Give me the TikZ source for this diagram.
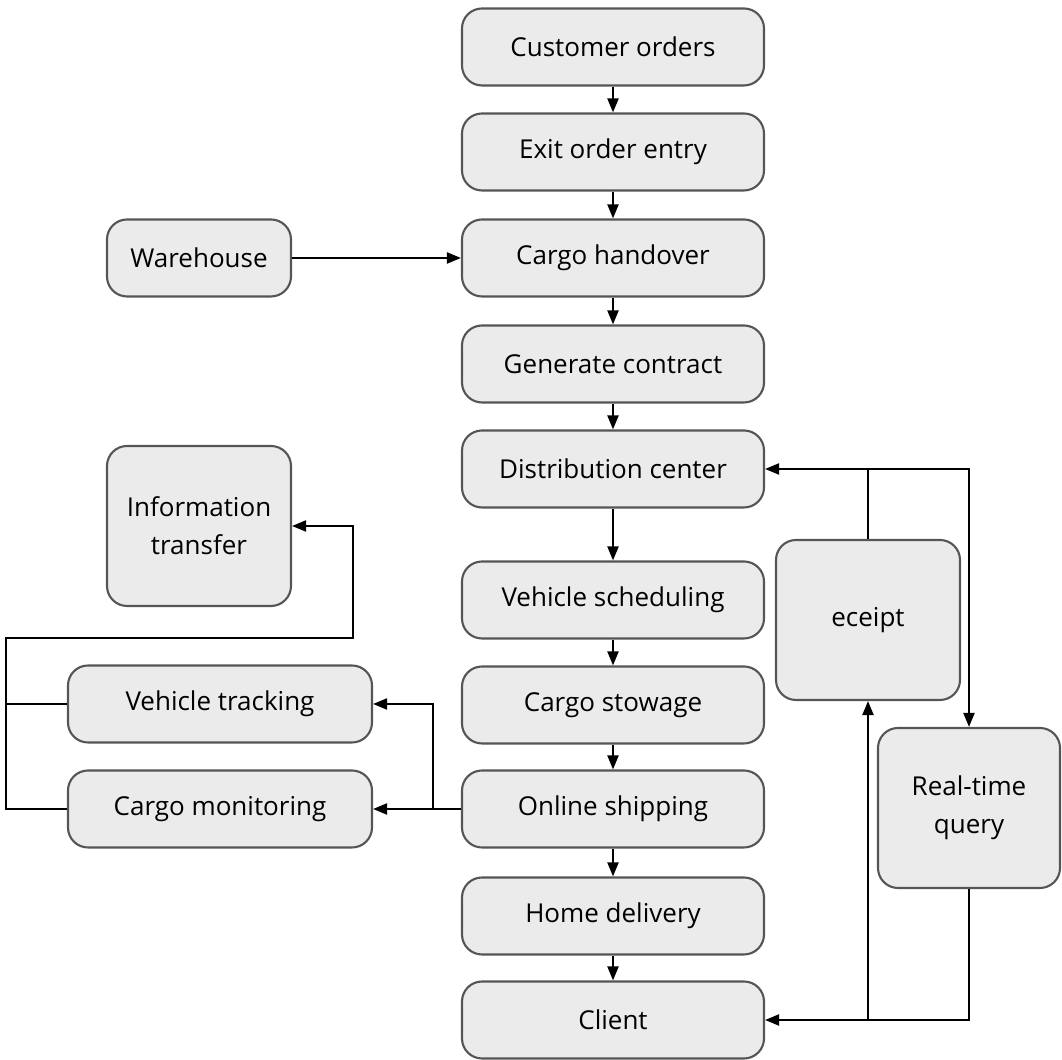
\documentclass[tikz,border=0pt]{standalone}
\usepackage{fontspec}
\setmainfont{Open Sans}
\usepackage{tikz}
\usetikzlibrary{arrows.meta,calc}
\definecolor{boxfill}{HTML}{EBEBEB}
\definecolor{boxline}{HTML}{555555}
\tikzset{
  stepbox/.style={draw=boxline,fill=boxfill,rounded corners=0.2cm,line width=0.6pt,
    minimum width=3.02cm,minimum height=0.77cm,align=center,inner sep=0pt,
    font=\fontsize{7.4}{10.8}\selectfont},
  sidebox/.style={stepbox,minimum width=1.84cm},
  tallbox/.style={sidebox,minimum height=1.6cm},
  flow/.style={-{Triangle[length=1.4mm,width=1.1mm]},line width=0.6pt},
  wire/.style={line width=0.6pt}
}

\begin{document}
\begin{tikzpicture}
      \useasboundingbox (0,0) rectangle (10.62,10.60);

      % main column
      \node[stepbox] (orders) at (6.13,10.13) {Customer orders};
      \node[stepbox] (entry) at (6.13,9.08) {Exit order entry};
      \node[stepbox] (handover) at (6.13,8.02) {Cargo handover};
      \node[stepbox] (contract) at (6.13,6.96) {Generate contract};
      \node[stepbox] (center) at (6.13,5.91) {Distribution center};
      \node[stepbox] (sched) at (6.13,4.60) {Vehicle scheduling};
      \node[stepbox] (stowage) at (6.13,3.55) {Cargo stowage};
      \node[stepbox] (shipping) at (6.13,2.51) {Online shipping};
      \node[stepbox] (delivery) at (6.13,1.44) {Home delivery};
      \node[stepbox] (client) at (6.13,0.40) {Client};

      % left side
      \node[sidebox] (warehouse) at (1.99,8.02) {Warehouse};
      \node[tallbox] (info) at (1.99,5.34) {Information\\transfer};
      \node[stepbox,minimum width=3.04cm] (tracking) at (2.20,3.56) {Vehicle tracking};
      \node[stepbox,minimum width=3.04cm] (monitor) at (2.20,2.51) {Cargo monitoring};

      % right side
      \node[tallbox] (receipt) at (8.68,4.40) {eceipt};
      \node[tallbox,minimum width=1.82cm] (query) at (9.69,2.52) {Real-time\\query};

      \coordinate (lbus) at (0.06,4.22);
      \coordinate (rbus) at (3.53,4.22);
      \coordinate (split) at (4.33,2.51);

      \foreach \a/\b in {orders/entry,entry/handover,handover/contract,contract/center,
        center/sched,sched/stowage,stowage/shipping,shipping/delivery,delivery/client}
        \draw[flow] (\a) -- (\b);

      \draw[flow] (warehouse) -- (handover);

      \draw[flow] (shipping.west) -- (monitor.east);
      \draw[flow] (split) |- (tracking.east);
      \draw[flow] (monitor.west) -| (lbus) -- (rbus) |- (info.east);
      \draw[wire] (tracking.west) -- (tracking.west -| lbus);

      \draw[flow] (receipt.north) |- (center.east);
      \draw[flow] (receipt.north |- center.east) -| (query.north);
      \draw[flow] (query.south) |- (client.east);
      \draw[flow] (receipt.south |- client.east) -- (receipt.south);
    \end{tikzpicture}
\end{document}
